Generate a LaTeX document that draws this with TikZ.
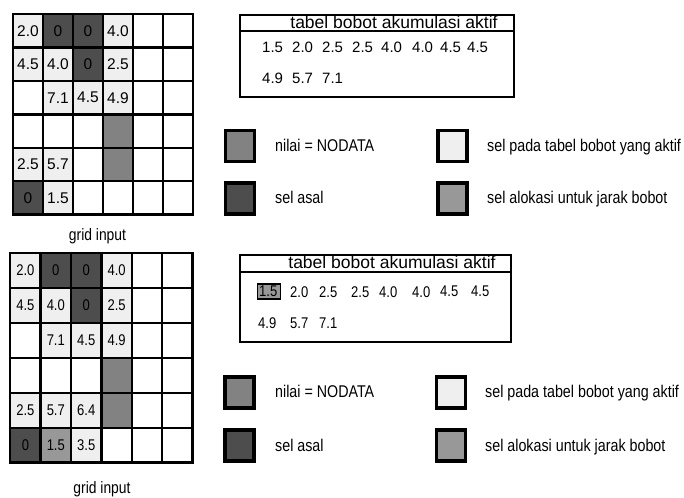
\documentclass[tikz,border=0pt]{standalone}
\usepackage{fontspec}
\setmainfont{Liberation Sans}
\newfontfamily\narrowfont{Liberation Sans}[FakeStretch=0.84]
\usetikzlibrary{positioning,calc}
\definecolor{ActiveCell}{RGB}{239,239,239}
\definecolor{OriginCell}{RGB}{77,77,77}
\definecolor{NoDataCell}{RGB}{130,130,130}
\definecolor{AllocCell}{RGB}{152,152,152}
\tikzset{
  cella/.style={draw=black,line width=2.4pt,inner sep=0pt,
    minimum width=30pt,minimum height=33.4pt,font=\fontsize{15.5}{15.5}\selectfont},
  cellb/.style={cella,minimum width=30.4pt,minimum height=34.9pt,
    font=\narrowfont\fontsize{15.5}{15.5}\selectfont},
  tablebox/.style={draw=black,line width=2pt,inner sep=0pt},
  title/.style={anchor=base,inner sep=0pt,font=\fontsize{17.5}{17.5}\selectfont},
  value/.style={anchor=west,inner sep=0pt,font=\fontsize{15}{15}\selectfont},
  valueb/.style={value,font=\narrowfont\fontsize{15.5}{15.5}\selectfont},
  key/.style={draw=black,line width=3.2pt,minimum width=29pt,minimum height=31pt,inner sep=0pt},
  keytext/.style={anchor=base west,inner sep=0pt,font=\narrowfont\fontsize{17}{17}\selectfont},
  caption/.style={anchor=base,inner sep=0pt,font=\narrowfont\fontsize{16.5}{16.5}\selectfont}
}
\begin{document}
\begin{tikzpicture}[x=1pt,y=-1pt]
  \useasboundingbox (0,0) rectangle (684,497);
  % upper grid
  \foreach \r/\cells in {
      1/{ActiveCell/2.0,OriginCell/0,OriginCell/0,ActiveCell/4.0,white/{},white/{}},
      2/{ActiveCell/4.5,ActiveCell/4.0,OriginCell/0,ActiveCell/2.5,white/{},white/{}},
      3/{white/{},ActiveCell/7.1,ActiveCell/4.5,ActiveCell/4.9,white/{},white/{}},
      4/{white/{},white/{},white/{},NoDataCell/{},white/{},white/{}},
      5/{ActiveCell/2.5,ActiveCell/5.7,white/{},NoDataCell/{},white/{},white/{}},
      6/{OriginCell/0,ActiveCell/1.5,white/{},white/{},white/{},white/{}}}
    \foreach \f/\t [count=\c] in \cells
      \node[cella,fill=\f] (ga-\r-\c) at ({13+(\c-0.5)*30},{14.2+(\r-0.5)*33.4}) {\t};
  \node[caption] (capA) at (97.5,240) {grid input};

  % upper table
  \node[tablebox,minimum width=274pt,minimum height=82pt,anchor=north west] (tabA) at (239,14) {};
  \draw[tablebox] ($(tabA.north west)+(0,17)$) -- ($(tabA.north east)+(0,17)$);
  \node[title] (titleA) at (394,28.5) {tabel bobot akumulasi aktif};
  \foreach \x/\v [count=\i] in {262/1.5,292/2.0,322/2.5,352/2.5,381/4.0,412/4.0,440/4.5,467/4.5}
    \node[value] (va-\i) at (\x,47) {\v};
  \foreach \x/\v [count=\i from 9] in {262/4.9,292/5.7,322/7.1}
    \node[value] (va-\i) at (\x,78.5) {\v};

  % upper legend
  \node[key,fill=NoDataCell] (keyA1) at (240,146) {};
  \node[keytext] (txtA1) at (275,151) {nilai = NODATA};
  \node[key,fill=OriginCell] (keyA2) at (240,198.5) {};
  \node[keytext] (txtA2) at (275,203) {sel asal};
  \node[key,fill=ActiveCell] (keyA3) at (452.5,146) {};
  \node[keytext] (txtA3) at (487,151) {sel pada tabel bobot yang aktif};
  \node[key,fill=AllocCell] (keyA4) at (452.5,198.5) {};
  \node[keytext] (txtA4) at (487,203) {sel alokasi untuk jarak bobot};

  % lower grid
  \foreach \r/\cells in {
      1/{ActiveCell/2.0,OriginCell/0,OriginCell/0,ActiveCell/4.0,white/{},white/{}},
      2/{ActiveCell/4.5,ActiveCell/4.0,OriginCell/0,ActiveCell/2.5,white/{},white/{}},
      3/{white/{},ActiveCell/7.1,ActiveCell/4.5,ActiveCell/4.9,white/{},white/{}},
      4/{white/{},white/{},white/{},NoDataCell/{},white/{},white/{}},
      5/{ActiveCell/2.5,ActiveCell/5.7,ActiveCell/6.4,NoDataCell/{},white/{},white/{}},
      6/{OriginCell/0,AllocCell/1.5,ActiveCell/3.5,white/{},white/{},white/{}}}
    \foreach \f/\t [count=\c] in \cells
      \node[cellb,fill=\f] (gb-\r-\c) at ({10.2+(\c-0.5)*30.4},{253.2+(\r-0.5)*34.9}) {\t};
  \node[caption] (capB) at (102,493) {grid input};

  % lower table
  \node[tablebox,minimum width=271pt,minimum height=87pt,anchor=north west] (tabB) at (239,254) {};
  \draw[tablebox] ($(tabB.north west)+(0,18)$) -- ($(tabB.north east)+(0,18)$);
  \node[title] (titleB) at (392,268) {tabel bobot akumulasi aktif};
  \node[draw=black,line width=1.8pt,fill=AllocCell,minimum width=23pt,minimum height=15pt,inner sep=0pt] (pick) at (269,291.5) {};
  \foreach \x/\v [count=\i] in {259/1.5,290/2.0,319/2.5,351/2.5,379/4.0,412/4.0,440/4.5,471/4.5}
    \node[valueb] (vb-\i) at (\x,291.7) {\v};
  \foreach \x/\v [count=\i from 9] in {258/4.9,290/5.7,319/7.1}
    \node[valueb] (vb-\i) at (\x,323) {\v};

  % lower legend
  \node[key,fill=NoDataCell] (keyB1) at (239.5,392.5) {};
  \node[keytext] (txtB1) at (275,397) {nilai = NODATA};
  \node[key,fill=OriginCell] (keyB2) at (239.5,445.5) {};
  \node[keytext] (txtB2) at (275,451) {sel asal};
  \node[key,fill=ActiveCell] (keyB3) at (451,392.5) {};
  \node[keytext] (txtB3) at (485,397) {sel pada tabel bobot yang aktif};
  \node[key,fill=AllocCell] (keyB4) at (451,445.5) {};
  \node[keytext] (txtB4) at (485,451) {sel alokasi untuk jarak bobot};
\end{tikzpicture}
\end{document}
